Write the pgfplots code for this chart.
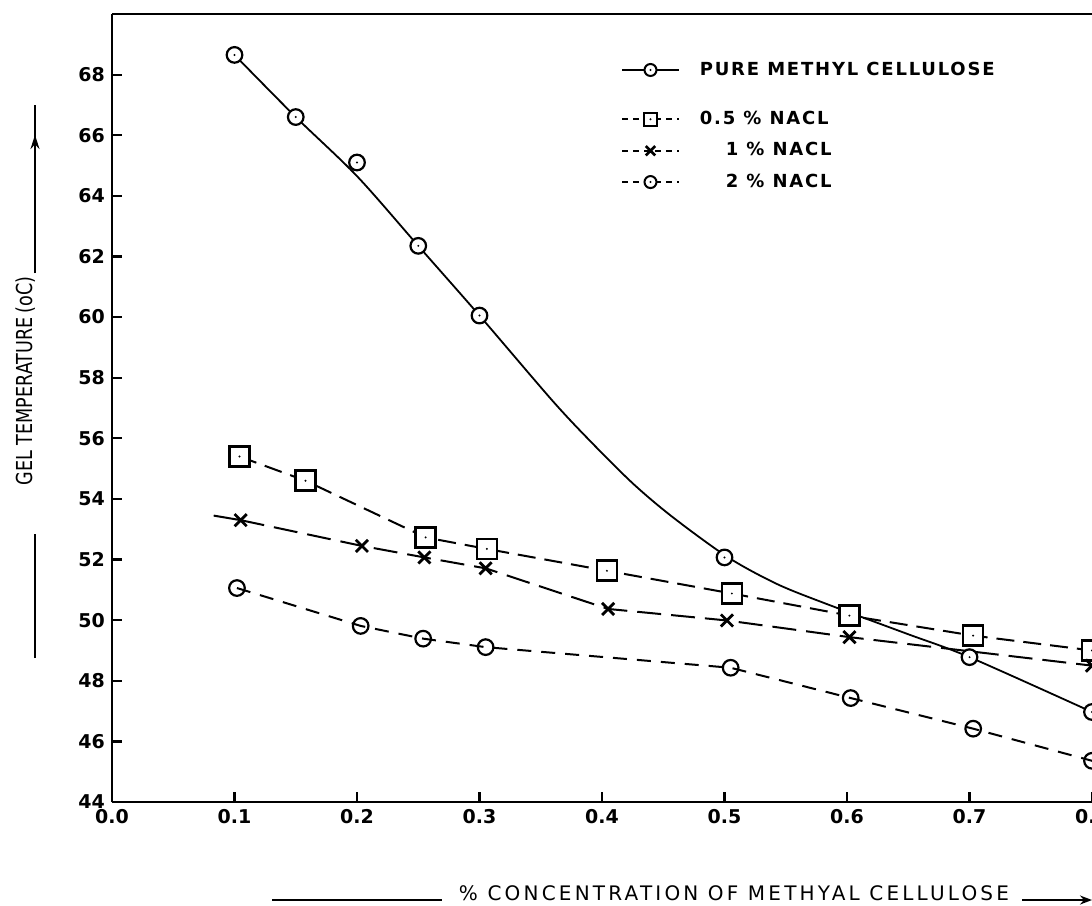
\documentclass[border=0pt]{standalone}
\usepackage{fontspec}
\setmainfont{DejaVu Sans}
\newfontfamily\narrowfont[FakeStretch=0.8]{DejaVu Sans}
\usepackage{pgfplots}
\pgfplotsset{compat=1.18}
\usetikzlibrary{arrows.meta}

% circle / square with a centre dot, as in the hand-drawn original
\pgfdeclareplotmark{odot}{%
  \pgfpathcircle{\pgfpointorigin}{\pgfplotmarksize}\pgfusepathqfillstroke
  \begin{pgfscope}\pgfsetfillcolor{black}%
  \pgfpathcircle{\pgfpointorigin}{0.55pt}\pgfusepathqfill\end{pgfscope}}
\pgfdeclareplotmark{sdot}{%
  \pgfpathrectangle{\pgfpoint{-\pgfplotmarksize}{-\pgfplotmarksize}}%
    {\pgfpoint{2\pgfplotmarksize}{2\pgfplotmarksize}}\pgfusepathqfillstroke
  \begin{pgfscope}\pgfsetfillcolor{black}%
  \pgfpathcircle{\pgfpointorigin}{0.55pt}\pgfusepathqfill\end{pgfscope}}

\begin{document}
\begin{tikzpicture}
\begin{axis}[
    name=ax,
    scale only axis,
    width=490pt, height=394pt,
    xmin=0, xmax=0.8, ymin=44, ymax=70,
    axis x line*=bottom, axis y line*=left,
    axis line style={line width=1.3pt},
    xtick={0,0.1,0.2,0.3,0.4,0.5,0.6,0.7,0.8},
    ytick={44,46,48,50,52,54,56,58,60,62,64,66,68},
    xticklabel={\pgfmathprintnumber[fixed,fixed zerofill,precision=1]{\tick}},
    tick align=inside,
    major tick length=5pt,
    tick style={line width=1.1pt, black},
    /pgf/number format/assume math mode=true,
    tick label style={font=\fontsize{9.5}{11}\selectfont\bfseries},
    legend style={at={(axis description cs:0.513,0.95)}, anchor=north west,
        draw=none, fill=none, row sep=3.5pt, cells={anchor=west},
        font=\fontsize{9}{10}\selectfont\bfseries\addfontfeature{LetterSpace=10}},
    legend image code/.code={\draw[mark repeat=2,mark phase=2,#1]
        plot coordinates {(0cm,0cm) (0.5cm,0cm) (1cm,0cm)};},
]
% legend keys, drawn like the hand-made key of the original
\addlegendimage{line width=0.9pt, mark=odot, mark size=3pt,
    mark options={line width=1pt, fill=white}}
\addlegendentry{\hspace*{8pt}PURE METHYL CELLULOSE}
\addlegendimage{empty legend}
\addlegendentry{}
\addlegendimage{line width=0.9pt, dash pattern=on 3pt off 2.5pt, mark=sdot,
    mark size=3.2pt, mark options={solid, line width=1.1pt, fill=white}}
\addlegendentry{\hspace*{8pt}0.5 \% NACL}
\addlegendimage{line width=0.9pt, dash pattern=on 3pt off 2.5pt, mark=x,
    mark size=3.3pt, mark options={solid, line width=1.3pt}}
\addlegendentry{\hspace*{21pt}1 \% NACL}
\addlegendimage{line width=0.9pt, dash pattern=on 3pt off 2.5pt, mark=odot,
    mark size=3pt, mark options={solid, line width=1pt, fill=white}}
\addlegendentry{\hspace*{21pt}2 \% NACL}

% pure methyl cellulose: drawn curve, then the measured points
\addplot[forget plot, line width=0.9pt, smooth] coordinates {
    (0.10,68.65) (0.15,66.60) (0.20,64.65) (0.25,62.35) (0.30,60.05)
    (0.36,57.22) (0.393,55.80) (0.426,54.48) (0.458,53.39)
    (0.503,52.07) (0.543,51.19) (0.583,50.54) (0.649,49.55) (0.70,48.78)
    (0.80,46.97)};
\addplot[forget plot, only marks, mark=odot, mark size=3.9pt,
    mark options={line width=1.1pt, fill=white}] coordinates {
    (0.10,68.65) (0.15,66.60) (0.20,65.10) (0.25,62.35) (0.30,60.05)
    (0.50,52.07) (0.70,48.78) (0.80,46.97)};

% 0.5 % NaCl
\addplot[forget plot, line width=1pt, dash pattern=on 9pt off 4.5pt, mark=sdot,
    mark size=5pt, mark options={solid, line width=1.3pt, fill=white}] coordinates {
    (0.104,55.40) (0.158,54.60) (0.256,52.73) (0.306,52.35) (0.404,51.63)
    (0.506,50.88) (0.602,50.15) (0.703,49.49) (0.800,49.00)};

% 1 % NaCl
\addplot[forget plot, line width=1pt] coordinates {(0.083,53.45) (0.105,53.30)};
\addplot[forget plot, line width=1pt, dash pattern=on 12pt off 5pt, mark=x,
    mark size=4.3pt, mark options={solid, line width=1.4pt}] coordinates {
    (0.105,53.30) (0.204,52.45) (0.255,52.07) (0.305,51.71) (0.405,50.37)
    (0.502,49.99) (0.602,49.44) (0.800,48.50)};

% 2 % NaCl
\addplot[forget plot, line width=1pt, dash pattern=on 7pt off 5pt, mark=o,
    mark size=3.9pt, mark options={solid, line width=1.1pt, fill=white}] coordinates {
    (0.102,51.06) (0.203,49.81) (0.254,49.39) (0.305,49.11) (0.505,48.43)
    (0.603,47.43) (0.703,46.42) (0.800,45.36)};
\end{axis}

\draw[line width=1.3pt] (ax.north west) -- (ax.north east);

% x label with its rule and arrow
\node[anchor=base, inner sep=0pt,
    font=\fontsize{10}{12}\selectfont\addfontfeature{LetterSpace=16}]
    at ([xshift=311pt,yshift=-49pt]ax.south west)
    {\% CONCENTRATION OF METHYAL CELLULOSE};
\draw[line width=0.9pt] ([xshift=80pt,yshift=-49pt]ax.south west) -- ++(85pt,0);
\draw[line width=0.9pt, -{Stealth[length=6pt,width=4.5pt]}]
    ([xshift=455pt,yshift=-49pt]ax.south west) -- ++(35pt,0);

% y label with its rule and arrow
\node[rotate=90, anchor=base, inner sep=0pt,
    font=\fontsize{11}{13}\selectfont\narrowfont]
    at ([xshift=-39.5pt,yshift=210.5pt]ax.south west) {GEL TEMPERATURE\,(oC)};
\draw[line width=0.9pt] ([xshift=-38.5pt,yshift=72pt]ax.south west) -- ++(0,62pt);
\draw[line width=0.9pt] ([xshift=-38.5pt,yshift=264.5pt]ax.south west) -- ++(0,84pt);
\draw[line width=0.9pt, -{Stealth[length=7pt,width=4.5pt]}]
    ([xshift=-38.5pt,yshift=264.5pt]ax.south west) -- ++(0,69pt);

\pgfresetboundingbox
\useasboundingbox ([xshift=-56pt,yshift=-51.5pt]ax.south west)
    rectangle ([yshift=7pt]ax.north east);
\end{tikzpicture}
\end{document}
